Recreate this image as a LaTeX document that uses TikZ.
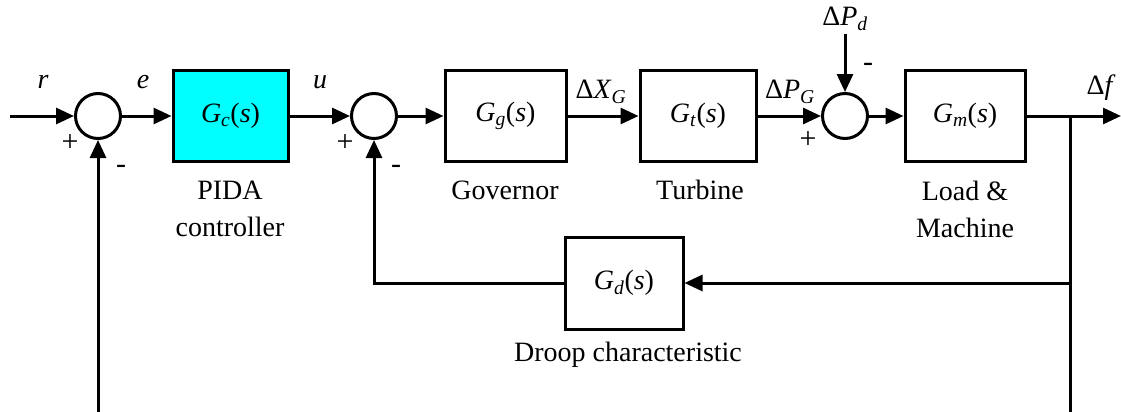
\documentclass[tikz,border=0pt]{standalone}
\usepackage{fontspec}
\setmainfont{Liberation Serif}
\usetikzlibrary{positioning,arrows.meta,calc}
\definecolor{cCtrl}{HTML}{00FFFF}
\definecolor{cLine}{HTML}{000000}
\newcommand{\tfun}[1]{\textit{G}\textsubscript{\textit{#1}}(\textit{s})}
\newcommand{\dsig}[2]{Δ\textit{#1}\textsubscript{\textit{#2}}}

\begin{document}
\begin{tikzpicture}[x=1pt,y=-1pt,
    block/.style={draw=cLine,line width=3pt,minimum height=91pt,inner sep=0pt,font=\fontsize{28}{30}\selectfont},
    sumnode/.style={draw=cLine,circle,line width=3pt,minimum size=45pt,inner sep=0pt},
    sig/.style={font=\fontsize{28}{30}\selectfont},
    sgn/.style={font=\fontsize{30}{32}\selectfont},
    caption/.style={font=\fontsize{28}{37}\selectfont,align=center},
    wire/.style={line width=3pt,draw=cLine},
    flow/.style={wire,-{Triangle[length=18pt,width=16pt]}}]
  \useasboundingbox (0,0) rectangle (1121,412);

  % forward path
  \coordinate (in) at (10,116);
  \node[sumnode] (sumE) at (98,116) {};
  \node[block,fill=cCtrl,minimum width=115pt] (ctrl) at (230.5,116) {\tfun{c}};
  \node[sumnode] (sumU) at (374,116) {};
  \node[block,minimum width=121pt] (gov) at (505.5,116) {\tfun{g}};
  \node[block,minimum width=116pt] (turb) at (698,116) {\tfun{t}};
  \node[sumnode] (sumP) at (845,116) {};
  \node[block,minimum width=120pt] (load) at (965,116) {\tfun{m}};
  \coordinate (br) at (1070,116);
  \coordinate (out) at (1121,116);

  % droop loop
  \node[block,minimum width=118pt,minimum height=92pt] (droop) at (624,283) {\tfun{d}};
  \coordinate (brD) at (1070,283);
  \coordinate (brB) at (1070,412);
  \coordinate (fbB) at (98,412);

  % disturbance
  \node[sig] (dPd) at (845,19) {\dsig{P}{d}};

  % signal names
  \node[sig] (lr) at (43,82) {\textit{r}};
  \node[sig] (le) at (143,82) {\textit{e}};
  \node[sig] (lu) at (320,82) {\textit{u}};
  \node[sig] (lXG) at (601,92) {\dsig{X}{G}};
  \node[sig] (lPG) at (790,92) {\dsig{P}{G}};
  \node[sig] (lf) at (1101,88) {Δ\textit{f}};

  % signs
  \node[sgn] (p1) at (70,143) {+};
  \node[sgn] (m1) at (121,169) {-};
  \node[sgn] (p2) at (345,143) {+};
  \node[sgn] (m2) at (396,169) {-};
  \node[sgn] (p3) at (808,140) {+};
  \node[sgn] (m3) at (868,67) {-};

  % captions
  \node[caption] (cCtrlTxt) at (230,209) {PIDA\\controller};
  \node[caption] (cGov) at (505,190) {Governor};
  \node[caption] (cTurb) at (700,190) {Turbine};
  \node[caption] (cLoad) at (965,209) {Load \&\\Machine};
  \node[caption] (cDroop) at (628,355) {Droop characteristic};

  % connectors
  \draw[flow] (in) -- (sumE);
  \draw[flow] (sumE) -- (ctrl);
  \draw[flow] (ctrl) -- (sumU);
  \draw[flow] (sumU) -- (gov);
  \draw[flow] (gov) -- (turb);
  \draw[flow] (turb) -- (sumP);
  \draw[flow] (sumP) -- (load);
  \draw[flow] (dPd) -- (sumP);
  \draw[flow] (load) -- (out);
  \draw[wire] (br) -- (brB);
  \draw[flow] (brD) -- (droop);
  \draw[flow] (droop.west) -| (sumU.south);
  \draw[flow] (fbB) -- (sumE.south);
\end{tikzpicture}
\end{document}
